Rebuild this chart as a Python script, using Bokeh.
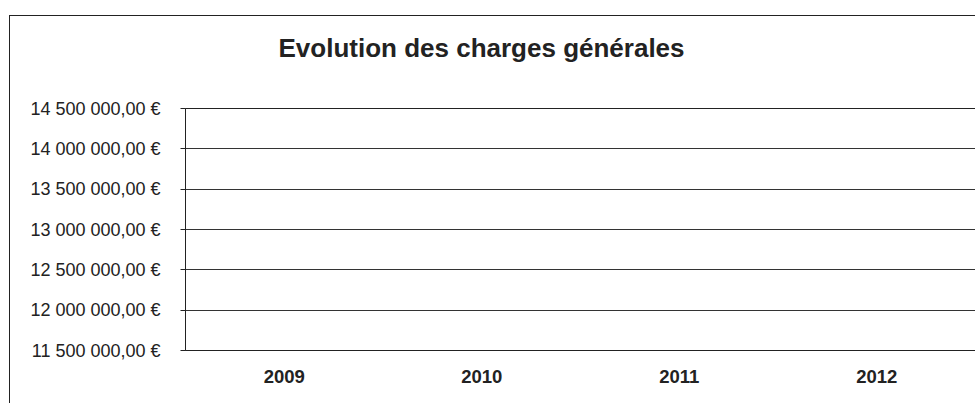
from bokeh.plotting import figure
from bokeh.models import FixedTicker, CustomJSTickFormatter, Range1d, Title
from bokeh.embed import file_html
from bokeh.resources import INLINE

# ---- data ----
categories = ["2009", "2010", "2011", "2012"]
y_ticks = [11500000, 12000000, 12500000, 13000000, 13500000, 14000000, 14500000]
title_text = "Evolution des charges générales"

p = figure(x_range=categories, y_range=Range1d(y_ticks[0], y_ticks[-1]),
           width=966, height=388, output_backend="svg", toolbar_location=None,
           min_border_left=175, min_border_top=92, min_border_right=1, min_border_bottom=54,
           margin=(15, 0, 0, 9),
           styles={"border-top": "1px solid #222", "border-left": "1px solid #222"})

# spacer panel between the title and the plot area
p.add_layout(Title(text=" ", standoff=33, text_font_size="10px", text_color="white"), "above")
p.add_layout(Title(text=title_text, align="left", offset=93, standoff=0,
                   text_font="Liberation Sans", text_font_size="26px",
                   text_font_style="bold", text_color="#222222"), "above")

p.background_fill_color = "white"
p.border_fill_color = "white"
p.outline_line_color = "#222222"
p.outline_line_width = 1

# y axis
p.yaxis.ticker = FixedTicker(ticks=y_ticks)
p.yaxis.formatter = CustomJSTickFormatter(code="""
const s = Math.round(tick).toString().replace(/\\B(?=(\\d{3})+(?!\\d))/g, " ");
return s + ",00 \u20ac";
""")
p.yaxis.major_label_text_font = "Liberation Sans"
p.yaxis.major_label_text_font_size = "18px"
p.yaxis.major_label_text_color = "#222222"
p.yaxis.major_tick_out = 5
p.yaxis.major_tick_in = 0
p.yaxis.minor_tick_line_color = None
p.yaxis.axis_line_color = "#222222"
p.yaxis.major_tick_line_color = "#222222"
p.yaxis.major_label_standoff = 20

# x axis
p.xaxis.major_label_text_font = "Liberation Sans"
p.xaxis.major_label_text_font_size = "18.5px"
p.xaxis.major_label_text_font_style = "bold"
p.xaxis.major_label_text_color = "#222222"
p.xaxis.major_tick_line_color = None
p.xaxis.axis_line_color = "#222222"
p.xaxis.major_label_standoff = 13

# grid
p.xgrid.grid_line_color = None
p.ygrid.grid_line_color = "#333333"
p.ygrid.grid_line_width = 1

p.x_range.range_padding = 0

open("out.html", "w").write(file_html(p, INLINE))
